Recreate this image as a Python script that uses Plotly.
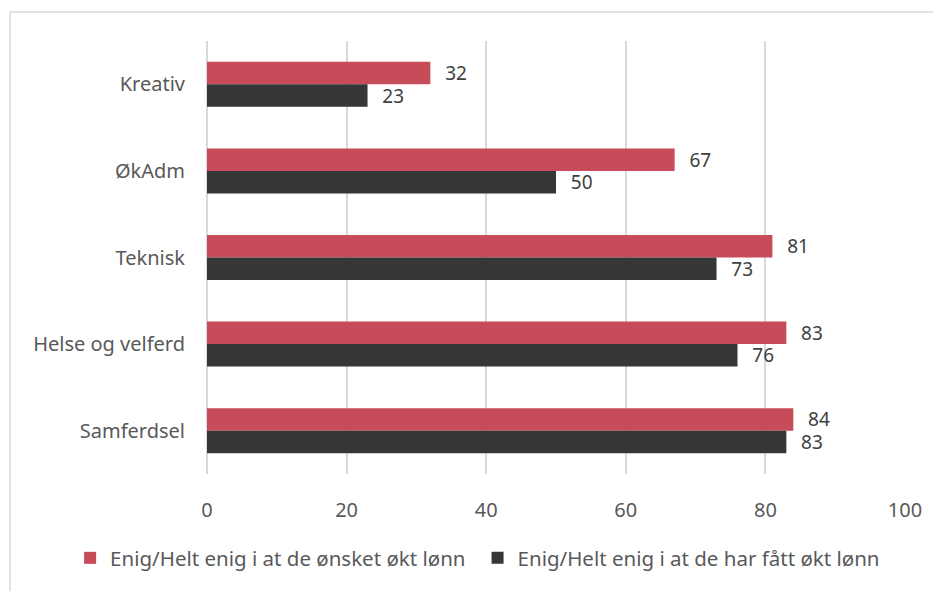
import plotly.graph_objects as go

# ---- data ----
categories = ["Kreativ", "ØkAdm", "Teknisk", "Helse og velferd", "Samferdsel"]
onsket = [32, 67, 81, 83, 84]
fatt = [23, 50, 73, 76, 83]
series_names = ["Enig/Helt enig i at de ønsket økt lønn",
                "Enig/Helt enig i at de har fått økt lønn"]
x_ticks = [0, 20, 40, 60, 80, 100]

RED = "#C84B5A"
DARK = "#363636"
TXT = "#595959"
GRID = "#D9D9D9"
FONT = "Noto Sans"

pad = "\u00a0\u00a0\u200a"

fig = go.Figure()
fig.add_trace(go.Bar(
    y=categories, x=onsket, orientation="h", name=series_names[0],
    marker=dict(color=RED, line=dict(width=0)),
    text=onsket, texttemplate=pad + "%{x}", textposition="outside",
    textfont=dict(family=FONT, size=19, color="#404040"),
    constraintext="none", cliponaxis=False, legend="legend",
))
fig.add_trace(go.Bar(
    y=categories, x=fatt, orientation="h", name=series_names[1],
    marker=dict(color=DARK, line=dict(width=0)),
    text=fatt, texttemplate=pad + "%{x}", textposition="outside",
    textfont=dict(family=FONT, size=19, color="#404040"),
    constraintext="none", cliponaxis=False, legend="legend2",
))

# outer frame (only left/top visible in the crop)
fig.add_shape(type="rect", xref="paper", yref="paper",
              x0=-0.2822, x1=1.2, y0=-0.4, y1=1.067,
              line=dict(color=GRID, width=1.5), layer="below")

leg = dict(orientation="h", xref="container", yref="container",
           xanchor="left", y=0.0694, yanchor="middle",
           font=dict(family=FONT, size=20.5, color=TXT), itemwidth=30,
           bgcolor="rgba(0,0,0,0)")

# page body has an 8px margin, so margins are shifted by 8px
fig.update_layout(
    width=941, height=591,
    margin=dict(l=199, r=44, t=33, b=125),
    paper_bgcolor="white", plot_bgcolor="white",
    barmode="group", bargap=0.48, bargroupgap=0,
    font=dict(family=FONT, size=20, color=TXT),
    showlegend=True,
    legend=dict(leg, x=0.066),
    legend2=dict(leg, x=0.499),
    xaxis=dict(range=[0, 100], tickvals=x_ticks, showgrid=True, gridcolor=GRID,
               gridwidth=1.5, zeroline=True, zerolinecolor=GRID, zerolinewidth=1.5,
               showline=False, ticklabelstandoff=22,
               tickfont=dict(family=FONT, size=20, color=TXT)),
    yaxis=dict(categoryorder="array", categoryarray=categories, autorange="reversed",
               showgrid=False, showline=False, ticks="", ticklabelstandoff=21,
               tickfont=dict(family=FONT, size=20, color=TXT)),
)

fig.write_html("out.html")
